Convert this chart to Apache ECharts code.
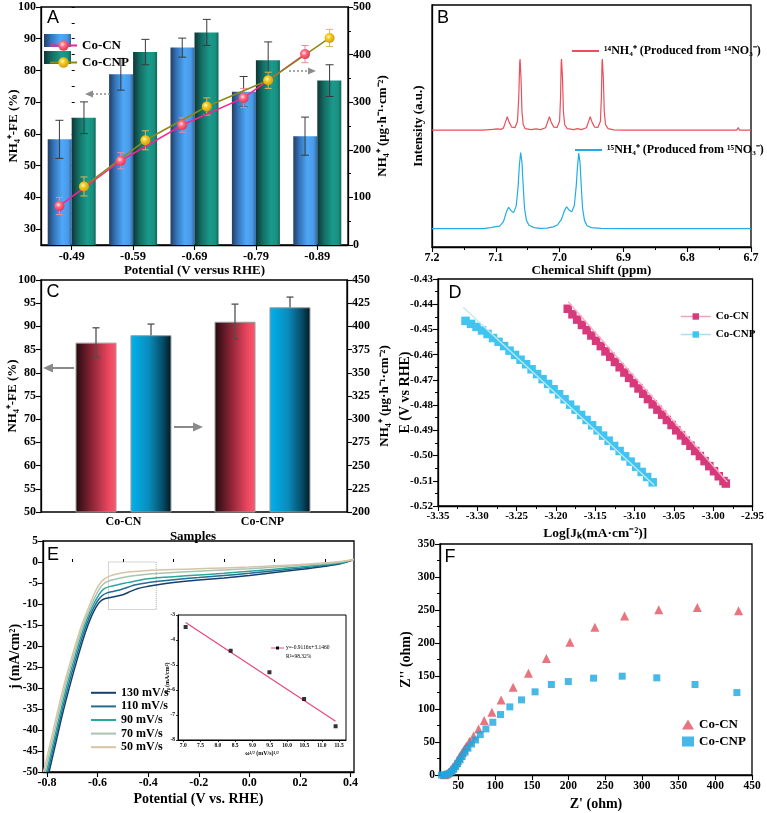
<!DOCTYPE html>
<html><head><meta charset="utf-8">
<script src="https://cdn.jsdelivr.net/npm/echarts@6/dist/echarts.min.js"></script>
<style>html,body{margin:0;padding:0;background:#fff}#c{width:767px;height:813px}</style>
</head><body><div id="c"></div>
<script>
// ---------- Panel A ----------
const potentials = ['-0.49', '-0.59', '-0.69', '-0.79', '-0.89'];
const feCN = [58.3, 78.8, 87.2, 73.3, 59.3];
const feCNErr = [6, 5, 3, 4.8, 6];
const feCNP = [65.1, 85.8, 92.0, 83.2, 76.8];
const feCNPErr = [5, 4, 4.1, 5.8, 5];
const yieldCN = [82, 177, 252, 309, 401];
const yieldCNErr = [18, 17, 15, 20, 18];
const yieldCNP = [123, 220, 291, 346, 435];
const yieldCNPErr = [20, 20, 18, 17, 18];
const feTicksA = [30, 40, 50, 60, 70, 80, 90, 100];

// ---------- Panel B (NMR) ----------
const nmr14 = [[7.200,48.3],[7.120,48.3],[7.105,48.6],[7.098,48.8],[7.092,48.6],[7.088,49.2],[7.085,51.5],[7.082,53.8],[7.079,51.5],[7.075,49.5],[7.070,49.3],[7.066,52],[7.064,62],[7.0625,76],[7.062,77.7],[7.0605,70],[7.059,56],[7.057,50.5],[7.054,48.9],[7.045,48.5],[7.037,48.8],[7.030,48.5],[7.022,49.3],[7.019,51.5],[7.016,53.8],[7.013,51.5],[7.009,49.5],[7.004,49.4],[7.000,52],[6.9985,62],[6.9975,76],[6.997,77.7],[6.9955,70],[6.994,56],[6.992,50.5],[6.988,48.9],[6.978,48.5],[6.972,48.9],[6.966,48.5],[6.958,49.3],[6.955,51.5],[6.952,53.8],[6.949,51.5],[6.945,49.5],[6.940,49.4],[6.936,52],[6.9345,62],[6.9335,76],[6.933,77.7],[6.9315,70],[6.930,56],[6.928,50.5],[6.924,48.9],[6.915,48.4],[6.900,48.3],[6.800,48.3],[6.722,48.3],[6.720,49.4],[6.718,48.3],[6.700,48.3]];
const nmr15 = [[7.200,7.6],[7.120,7.6],[7.108,8.0],[7.100,8.4],[7.094,8.6],[7.088,10.5],[7.083,14.8],[7.080,16.4],[7.076,15],[7.072,14.2],[7.068,17],[7.065,25],[7.063,34],[7.061,39],[7.059,35],[7.057,25],[7.055,16],[7.052,11],[7.048,9],[7.040,8],[7.030,7.7],[7.020,7.8],[7.010,8.3],[7.003,9.2],[6.997,11.5],[6.992,15.3],[6.989,16.6],[6.985,15.2],[6.981,14.6],[6.977,17],[6.974,25],[6.972,33],[6.970,38.8],[6.968,35],[6.966,25],[6.964,16],[6.961,11],[6.957,8.8],[6.950,8.0],[6.935,7.7],[6.900,7.6],[6.700,7.6]];

// ---------- Panel C ----------
const samples = ['Co-CN', 'Co-CNP'];
const feC = [86.5, 91.0];
const feCErr = [3.2, 3.8];
const yieldC = [390.5, 420.6];
const yieldCErr = [12, 11];

// ---------- Panel D (Tafel) ----------
const tafelCN = [[-3.185,-0.4418],[-3.179,-0.4440],[-3.173,-0.4461],[-3.167,-0.4482],[-3.161,-0.4503],[-3.155,-0.4524],[-3.149,-0.4545],[-3.143,-0.4566],[-3.137,-0.4587],[-3.131,-0.4608],[-3.125,-0.4629],[-3.119,-0.4650],[-3.113,-0.4671],[-3.107,-0.4692],[-3.101,-0.4713],[-3.095,-0.4734],[-3.089,-0.4755],[-3.083,-0.4776],[-3.077,-0.4797],[-3.071,-0.4818],[-3.065,-0.4838],[-3.059,-0.4859],[-3.053,-0.4879],[-3.047,-0.4900],[-3.041,-0.4920],[-3.035,-0.4941],[-3.029,-0.4961],[-3.023,-0.4982],[-3.017,-0.5002],[-3.011,-0.5022],[-3.005,-0.5042],[-2.999,-0.5062],[-2.993,-0.5082],[-2.987,-0.5101],[-2.984,-0.5111]];
const tafelCNP = [[-3.315,-0.4466],[-3.308,-0.4478],[-3.301,-0.4490],[-3.294,-0.4504],[-3.287,-0.4518],[-3.280,-0.4534],[-3.273,-0.4549],[-3.266,-0.4566],[-3.259,-0.4584],[-3.252,-0.4601],[-3.245,-0.4620],[-3.238,-0.4638],[-3.231,-0.4658],[-3.224,-0.4677],[-3.217,-0.4697],[-3.210,-0.4716],[-3.203,-0.4737],[-3.196,-0.4757],[-3.189,-0.4777],[-3.182,-0.4798],[-3.175,-0.4818],[-3.168,-0.4839],[-3.161,-0.4859],[-3.154,-0.4880],[-3.147,-0.4900],[-3.140,-0.4921],[-3.133,-0.4941],[-3.126,-0.4962],[-3.119,-0.4982],[-3.112,-0.5003],[-3.105,-0.5024],[-3.098,-0.5044],[-3.091,-0.5065],[-3.084,-0.5085],[-3.077,-0.5106]];
const fitCN = [[-3.1845,-0.4390],[-2.982,-0.5105]];
const fitCNP = [[-3.318,-0.4412],[-3.075,-0.5118]];

// ---------- Panel E (LSV) ----------
const scanRates = ['130', '110', '90', '70', '50'];
const lsv130 = [[-0.792,-50],[-0.765,-43],[-0.74,-36.5],[-0.71,-29.5],[-0.68,-23],[-0.65,-17],[-0.625,-13],[-0.605,-10.6],[-0.59,-9.4],[-0.575,-8.8],[-0.555,-8.5],[-0.53,-8.2],[-0.50,-7.8],[-0.47,-7.0],[-0.44,-6.3],[-0.40,-5.8],[-0.35,-5.3],[-0.30,-4.9],[-0.20,-4.3],[-0.10,-3.8],[0.00,-3.2],[0.10,-2.5],[0.20,-1.8],[0.30,-1.0],[0.36,-0.4],[0.414,0.6]];
const lsv110 = [[-0.797,-50],[-0.77,-43],[-0.745,-36.5],[-0.716,-29.5],[-0.686,-23],[-0.656,-17],[-0.632,-13],[-0.612,-10.5],[-0.597,-9.0],[-0.582,-8.0],[-0.565,-7.4],[-0.54,-7.0],[-0.51,-6.6],[-0.48,-6.0],[-0.45,-5.4],[-0.40,-4.9],[-0.35,-4.5],[-0.30,-4.2],[-0.20,-3.7],[-0.10,-3.2],[0.00,-2.7],[0.10,-2.1],[0.20,-1.5],[0.30,-0.8],[0.36,-0.3],[0.414,0.6]];
const lsv90 = [[-0.802,-50],[-0.775,-43],[-0.75,-36.5],[-0.722,-29.5],[-0.692,-23],[-0.662,-17],[-0.638,-13],[-0.618,-10.3],[-0.603,-8.6],[-0.588,-7.2],[-0.572,-6.3],[-0.55,-5.8],[-0.52,-5.4],[-0.49,-5.0],[-0.45,-4.5],[-0.40,-4.0],[-0.35,-3.7],[-0.30,-3.5],[-0.20,-3.1],[-0.10,-2.7],[0.00,-2.2],[0.10,-1.7],[0.20,-1.2],[0.30,-0.6],[0.36,-0.2],[0.414,0.6]];
const lsv70 = [[-0.808,-50],[-0.781,-43],[-0.756,-36.5],[-0.728,-29.5],[-0.698,-23],[-0.668,-17],[-0.644,-13],[-0.624,-10.2],[-0.609,-8.2],[-0.594,-6.5],[-0.578,-5.3],[-0.56,-4.6],[-0.53,-4.1],[-0.50,-3.7],[-0.45,-3.2],[-0.40,-2.9],[-0.35,-2.7],[-0.30,-2.5],[-0.20,-2.2],[-0.10,-1.9],[0.00,-1.6],[0.10,-1.2],[0.20,-0.8],[0.30,-0.4],[0.36,0.0],[0.414,0.6]];
const lsv50 = [[-0.814,-50],[-0.787,-43],[-0.762,-36.5],[-0.734,-29.5],[-0.704,-23],[-0.674,-17],[-0.65,-13],[-0.63,-10.0],[-0.615,-7.8],[-0.60,-6.0],[-0.585,-4.7],[-0.57,-3.9],[-0.55,-3.3],[-0.52,-2.8],[-0.48,-2.4],[-0.44,-2.2],[-0.40,-2.0],[-0.30,-1.8],[-0.20,-1.6],[-0.10,-1.4],[0.00,-1.2],[0.10,-0.9],[0.20,-0.6],[0.30,-0.2],[0.36,0.1],[0.414,0.6]];
const lsvTicks = [-0.8, -0.6, -0.4, -0.2, 0, 0.2, 0.4];
const lsvMinorTicks = [-0.7, -0.5, -0.3, -0.1, 0.1, 0.3];
const dottedBox = [-0.557, 0, -0.368, -11.3];
// inset
const sqrtScan = [7.07, 8.37, 9.49, 10.49, 11.40];
const jp = [-3.48, -4.43, -5.29, -6.36, -7.45];
const jpFit = [[7.07, -3.30], [11.40, -7.25]];
const insetTicks = [7.0, 7.5, 8.0, 8.5, 9.0, 9.5, 10.0, 10.5, 11.0, 11.5];

// ---------- Panel F (EIS) ----------
const eisCN = [[31,0.3],[33,1],[35,2.2],[37,4],[39,6.5],[41,9],[43,12],[45,15],[47,18.5],[49,22],[51,26],[53,30],[55.5,34],[58,39],[61,44],[65.3,51.1],[70.7,59.2],[77.5,69.8],[85.2,82.4],[95.7,95.1],[108.3,113.8],[124.6,133],[145.5,154.3],[169.9,176.5],[202,201.3],[236,224],[276.4,240.8],[323,250.4],[375.5,253.9],[431.7,248.9]];
const eisCNP = [[27,0],[30,0],[34,1],[37.7,2.5],[40.9,5],[43.6,8.6],[46.3,12.6],[49,17.2],[52.2,22.8],[55.3,28.3],[59,34.4],[63,40.5],[68,47],[73.5,53.1],[79.8,61.2],[87.5,69.8],[97,79.9],[107.4,91.6],[120.1,103.2],[136,113.8],[154.5,126],[176.7,137.1],[199.8,141.6],[234.2,146.7],[273.2,149.7],[320.3,147.2],[372.4,137.1],[429.4,124.9]];
const eisTicks = [50, 100, 150, 200, 250, 300, 350, 400, 450];

// ================= styling / build =================
const SERIF = '"Liberation Serif","Times New Roman",serif';
const SANS = '"Liberation Sans",Arial,sans-serif';
const isObj = o => o && typeof o === 'object' && !Array.isArray(o);
function merge(a, b) { const r = Object.assign({}, a); for (const k in b) { r[k] = (isObj(a[k]) && isObj(b[k])) ? merge(a[k], b[k]) : b[k]; } return r; }
const baseAxis = {
  axisLine: { show: true, onZero: false, lineStyle: { color: '#000', width: 1.3 } },
  axisTick: { show: true, length: 5, lineStyle: { color: '#000', width: 1.1 } },
  minorTick: { length: 3, lineStyle: { color: '#000', width: 1 } },
  axisLabel: { color: '#000', fontFamily: SERIF, fontWeight: 'bold', fontSize: 12, margin: 5 },
  splitLine: { show: false },
  nameLocation: 'middle',
  nameMoveOverlap: false,
  nameTextStyle: { color: '#000', fontFamily: SERIF, fontWeight: 'bold', fontSize: 13 }
};
const ax = o => merge(baseAxis, o);
const frame = (l, t, w, h, show = true) => ({ left: l, top: t, width: w, height: h, show: show, borderColor: '#000', borderWidth: 1.3, backgroundColor: 'transparent' });
const barOffset = 0.2;

function errRender(color, capHalf, pxOffset, width) {
  return function (params, api) {
    const x = api.value(0), v = api.value(1), e = api.value(2);
    const t = api.coord([x, v + e]), b = api.coord([x, v - e]);
    const dx = pxOffset || 0, st = { stroke: color, lineWidth: width || 1 };
    return { type: 'group', children: [
      { type: 'line', shape: { x1: t[0] + dx, y1: t[1], x2: b[0] + dx, y2: b[1] }, style: st },
      { type: 'line', shape: { x1: t[0] + dx - capHalf, y1: t[1], x2: t[0] + dx + capHalf, y2: t[1] }, style: st },
      { type: 'line', shape: { x1: b[0] + dx - capHalf, y1: b[1], x2: b[0] + dx + capHalf, y2: b[1] }, style: st }
    ] };
  };
}
const lg = (stops) => ({ type: 'linear', x: 0, y: 0, x2: 1, y2: 0, colorStops: stops.map((c) => ({ offset: c[0], color: c[1] })) });
const blueBar = lg([[0, '#233e63'], [0.25, '#3473b8'], [0.6, '#4ea8f7'], [0.85, '#4a9ae8'], [1, '#2f68a8']]);
const tealBar = lg([[0, '#0f3536'], [0.3, '#137066'], [0.65, '#1a9a8c'], [0.88, '#18907f'], [1, '#11625a']]);
const redBarC = lg([[0, '#240a10'], [0.45, '#98283a'], [0.8, '#e9475f'], [1, '#ff5670']]);
const blueBarC = lg([[0, '#00b2ee'], [0.45, '#0a8cbc'], [0.8, '#064a66'], [1, '#001820']]);
const rg = (a, b, c) => ({ type: 'radial', x: 0.4, y: 0.38, r: 0.65, colorStops: [{ offset: 0, color: a }, { offset: 0.4, color: b }, { offset: 1, color: c }] });
const legendText = (size, bold) => ({ fontFamily: SERIF, fontWeight: bold === false ? 'normal' : 'bold', fontSize: size, color: '#000' });

const option = {
  animation: false,
  backgroundColor: '#fff',
  grid: [
    frame(41, 7, 307, 238),      // 0 A
    frame(432, 5, 319, 242),     // 1 B
    frame(41, 280, 306, 232),    // 2 C frame
    frame(54, 280, 278, 232, false), // 3 C bars
    frame(438, 279, 315, 227),   // 4 D
    frame(43, 541, 311, 231),    // 5 E
    merge(frame(178, 615, 168, 125), { borderWidth: 1, backgroundColor: '#fff' }), // 6 inset
    frame(440, 544, 312, 231)    // 7 F
  ],
  xAxis: [
    ax({ gridIndex: 0, type: 'category', data: potentials, axisLabel: { fontSize: 12.5 }, axisTick: { alignWithLabel: true }, name: 'Potential (V versus RHE)', nameGap: 19 }),
    { gridIndex: 0, type: 'value', min: -0.5, max: 4.5, show: false },
    ax({ gridIndex: 1, type: 'value', inverse: true, min: 6.7, max: 7.2, interval: 0.1, minorTick: { show: true, splitNumber: 2 }, axisLabel: { formatter: v => v.toFixed(1) }, name: 'Chemical Shift (ppm)', nameGap: 17 }),
    { gridIndex: 2, type: 'value', min: 0, max: 1, show: false },
    ax({ gridIndex: 3, type: 'category', data: samples, axisLine: { show: false }, axisTick: { show: false }, axisLabel: { margin: 4 }, name: 'Samples', nameGap: 18 }),
    ax({ gridIndex: 4, type: 'value', min: -3.35, max: -2.95, interval: 0.05, minorTick: { show: true, splitNumber: 2 }, axisLabel: { fontSize: 11, formatter: v => v.toFixed(2) }, name: 'Log[Jₖ(mA·cm⁻²)]', nameGap: 21, nameTextStyle: { fontSize: 13.5 } }),
    ax({ gridIndex: 5, type: 'value', min: -0.816, max: 0.414, axisLabel: { customValues: lsvTicks, formatter: v => v.toFixed(1) }, axisTick: { customValues: lsvTicks }, name: 'Potential (V vs. RHE)', nameGap: 20, nameTextStyle: { fontSize: 14 } }),
    { gridIndex: 5, type: 'value', min: -0.816, max: 0.414, axisLine: { show: false }, axisLabel: { show: false }, splitLine: { show: false }, axisTick: { customValues: lsvMinorTicks, length: 3, lineStyle: { color: '#000' } } },
    ax({ gridIndex: 6, type: 'value', min: 6.85, max: 11.7, axisLine: { lineStyle: { width: 1 } }, axisTick: { customValues: insetTicks, length: 2, lineStyle: { width: 0.8 } }, axisLabel: { customValues: insetTicks, fontSize: 5.5, margin: 3, formatter: v => v.toFixed(1) }, name: 'ω¹/² (mV/s)¹/²', nameGap: 10, nameTextStyle: { fontSize: 6 } }),
    ax({ gridIndex: 7, type: 'value', min: 25, max: 450, axisLabel: { customValues: eisTicks, fontSize: 11.5 }, axisTick: { customValues: eisTicks }, name: "Z' (ohm)", nameGap: 22, nameTextStyle: { fontSize: 14 } })
  ],
  yAxis: [
    ax({ gridIndex: 0, type: 'value', min: 25, max: 100, axisLabel: { customValues: feTicksA }, axisTick: { customValues: feTicksA }, name: 'NH₄⁺-FE (%)', nameGap: 21, nameRotate: 90 }),
    { gridIndex: 0, type: 'value', min: 25, max: 100, interval: 5, axisLine: { show: false }, axisLabel: { show: false }, splitLine: { show: false }, axisTick: { length: 3, lineStyle: { color: '#000' } } },
    ax({ gridIndex: 0, type: 'value', position: 'right', min: 0, max: 500, interval: 100, minorTick: { show: true, splitNumber: 2 }, name: 'NH₄⁺ (μg·h⁻¹·cm⁻²)', nameGap: 28, nameRotate: 90 }),
    ax({ gridIndex: 1, type: 'value', min: 0, max: 100, axisLabel: { show: false }, axisTick: { show: false }, name: 'Intensity (a.u.)', nameGap: 7, nameRotate: 90 }),
    ax({ gridIndex: 2, type: 'value', min: 50, max: 100, interval: 5, name: 'NH₄⁺-FE (%)', nameGap: 22, nameRotate: 90 }),
    ax({ gridIndex: 2, type: 'value', position: 'right', min: 200, max: 450, interval: 25, name: 'NH₄⁺ (μg·h⁻¹·cm⁻²)', nameGap: 31, nameRotate: 90 }),
    { gridIndex: 3, type: 'value', min: 50, max: 100, show: false },
    { gridIndex: 3, type: 'value', min: 200, max: 450, show: false },
    ax({ gridIndex: 4, type: 'value', min: -0.52, max: -0.43, interval: 0.01, minorTick: { show: true, splitNumber: 2 }, axisLabel: { fontSize: 11, formatter: v => v.toFixed(2) }, name: 'E (V vs RHE)', nameGap: 26, nameRotate: 90, nameTextStyle: { fontSize: 14 } }),
    ax({ gridIndex: 5, type: 'value', min: -50, max: 5, interval: 5, axisLabel: { fontSize: 11.5 }, name: 'j (mA/cm²)', nameGap: 21, nameRotate: 90, nameTextStyle: { fontSize: 14 } }),
    ax({ gridIndex: 6, type: 'value', min: -8, max: -3, interval: 1, axisLine: { lineStyle: { width: 1 } }, axisTick: { length: 2, lineStyle: { width: 0.8 } }, axisLabel: { fontSize: 5.5, margin: 3 }, name: 'jₚ (mA/cm²)', nameGap: 8, nameRotate: 90, nameTextStyle: { fontSize: 6 } }),
    ax({ gridIndex: 7, type: 'value', min: 0, max: 350, interval: 50, minorTick: { show: true, splitNumber: 2 }, axisLabel: { fontSize: 11.5 }, name: "Z'' (ohm)", nameGap: 27, nameRotate: 90, nameTextStyle: { fontSize: 14 } })
  ],
  legend: [
    { data: ['A_Co-CN', 'A_Co-CNP'], orient: 'vertical', left: 44, top: 34, itemWidth: 27, itemHeight: 13, itemGap: 4, selectedMode: false, formatter: n => n.slice(2), textStyle: legendText(13) },
    { data: ['B_14'], left: 566, top: 40, itemWidth: 27, itemHeight: 14, selectedMode: false, itemStyle: { opacity: 0 }, formatter: () => '¹⁴NH₄⁺ (Produced from ¹⁴NO₃⁻)', textStyle: legendText(12) },
    { data: ['B_15'], left: 569, top: 139, itemWidth: 27, itemHeight: 14, selectedMode: false, itemStyle: { opacity: 0 }, formatter: () => '¹⁵NH₄⁺ (Produced from ¹⁵NO₃⁻)', textStyle: legendText(12) },
    { data: [{ name: 'D_Co-CN', lineStyle: { color: '#f0a3bd', width: 1.5 } }, { name: 'D_Co-CNP', lineStyle: { color: '#a9def2', width: 1.5 } }], orient: 'vertical', left: 675, top: 306, itemWidth: 30, itemHeight: 8, itemGap: 7, selectedMode: false, formatter: n => n.slice(2), textStyle: legendText(11) },
    { data: scanRates.map(s => 'E_' + s), orient: 'vertical', left: 85, top: 681, itemWidth: 25, itemHeight: 10, itemGap: 0, selectedMode: false, itemStyle: { opacity: 0 }, formatter: n => n.slice(2) + ' mV/s', textStyle: merge(legendText(12), { lineHeight: 13.6 }) },
    { data: ['F_Co-CN', 'F_Co-CNP'], orient: 'vertical', left: 677, top: 713, itemWidth: 12, itemHeight: 10, itemGap: 4, selectedMode: false, formatter: n => n.slice(2), textStyle: legendText(13) }
  ],
  series: [
    // ---- A ----
    { name: 'A_barCN', type: 'bar', xAxisIndex: 0, yAxisIndex: 0, data: feCN, barWidth: 24, barGap: '0%', itemStyle: { color: blueBar }, z: 2 },
    { name: 'A_barCNP', type: 'bar', xAxisIndex: 0, yAxisIndex: 0, data: feCNP, barWidth: 24, barGap: '0%', itemStyle: { color: tealBar }, z: 2 },
    { type: 'custom', xAxisIndex: 1, yAxisIndex: 0, z: 3, renderItem: errRender('#3a3a3a', 4, 0, 1), data: feCN.map((v, i) => [i - barOffset, v, feCNErr[i]]) },
    { type: 'custom', xAxisIndex: 1, yAxisIndex: 0, z: 3, renderItem: errRender('#3a3a3a', 4, 0, 1), data: feCNP.map((v, i) => [i + barOffset, v, feCNPErr[i]]) },
    { type: 'custom', xAxisIndex: 1, yAxisIndex: 2, z: 4, renderItem: errRender('#f08a9a', 3.5, 0, 1), data: yieldCN.map((v, i) => [i - barOffset, v, yieldCNErr[i]]) },
    { type: 'custom', xAxisIndex: 1, yAxisIndex: 2, z: 4, renderItem: errRender('#e2b64a', 3.5, 0, 1), data: yieldCNP.map((v, i) => [i + barOffset, v, yieldCNPErr[i]]) },
    { name: 'A_Co-CN', type: 'line', xAxisIndex: 1, yAxisIndex: 2, z: 5, data: yieldCN.map((v, i) => [i - barOffset, v]), symbol: 'circle', symbolSize: 10, lineStyle: { color: '#ff1f8f', width: 1.5 }, itemStyle: { color: rg('#ffe3ea', '#ff6b82', '#e5304e') } },
    { name: 'A_Co-CNP', type: 'line', xAxisIndex: 1, yAxisIndex: 2, z: 5, data: yieldCNP.map((v, i) => [i + barOffset, v]), symbol: 'circle', symbolSize: 10, lineStyle: { color: '#8a8a14', width: 1.5 }, itemStyle: { color: rg('#fff7c4', '#f4c81c', '#cf9d0e') } },
    // ---- B ----
    { name: 'B_14', type: 'line', xAxisIndex: 2, yAxisIndex: 3, data: nmr14, symbol: 'none', lineStyle: { color: '#e8505d', width: 1.2 }, itemStyle: { color: '#e8505d' } },
    { name: 'B_15', type: 'line', xAxisIndex: 2, yAxisIndex: 3, data: nmr15, symbol: 'none', lineStyle: { color: '#20ade6', width: 1.2 }, itemStyle: { color: '#20ade6' } },
    // ---- C ----
    { name: 'C_FE', type: 'bar', xAxisIndex: 4, yAxisIndex: 6, data: feC, barWidth: 41, barGap: '34%', itemStyle: { color: redBarC, borderColor: '#9a9a9a', borderWidth: 1 }, z: 2 },
    { name: 'C_Y', type: 'bar', xAxisIndex: 4, yAxisIndex: 7, data: yieldC, barWidth: 41, barGap: '34%', itemStyle: { color: blueBarC, borderColor: '#9a9a9a', borderWidth: 1 }, z: 2 },
    { type: 'custom', xAxisIndex: 4, yAxisIndex: 6, z: 3, renderItem: errRender('#505050', 3.5, -27.5, 1.3), data: feC.map((v, i) => [i, v, feCErr[i]]) },
    { type: 'custom', xAxisIndex: 4, yAxisIndex: 7, z: 1, renderItem: errRender('#505050', 3.5, 27.5, 1.3), data: yieldC.map((v, i) => [i, v, yieldCErr[i]]) },
    // ---- D ----
    { name: 'D_Co-CN', type: 'line', xAxisIndex: 5, yAxisIndex: 8, data: tafelCN, symbol: 'rect', symbolSize: 8.5, lineStyle: { color: '#d8397a', width: 3 }, itemStyle: { color: '#d8397a' }, z: 2 },
    { name: 'D_Co-CNP', type: 'line', xAxisIndex: 5, yAxisIndex: 8, data: tafelCNP, symbol: 'rect', symbolSize: 8.5, lineStyle: { color: '#41c4ef', width: 3 }, itemStyle: { color: '#41c4ef' }, z: 2 },
    { name: 'D_fitCN', type: 'line', xAxisIndex: 5, yAxisIndex: 8, data: fitCN, symbol: 'none', lineStyle: { color: '#f3b0c6', width: 1.3 }, z: 3 },
    { name: 'D_fitCNP', type: 'line', xAxisIndex: 5, yAxisIndex: 8, data: fitCNP, symbol: 'none', lineStyle: { color: '#bfe9f7', width: 1.3 }, z: 3 },
    // ---- E ----
    { name: 'E_130', type: 'line', xAxisIndex: 6, yAxisIndex: 9, data: lsv130, symbol: 'none', smooth: 0.3, lineStyle: { color: '#173f6e', width: 1.5 }, itemStyle: { color: '#173f6e' },
      markArea: { silent: true, itemStyle: { color: 'rgba(0,0,0,0)', borderColor: '#aaa', borderWidth: 1, borderType: 'dotted' }, data: [[{ coord: [dottedBox[0], dottedBox[1]] }, { coord: [dottedBox[2], dottedBox[3]] }]] } },
    { name: 'E_110', type: 'line', xAxisIndex: 6, yAxisIndex: 9, data: lsv110, symbol: 'none', smooth: 0.3, lineStyle: { color: '#236f91', width: 1.5 }, itemStyle: { color: '#236f91' } },
    { name: 'E_90', type: 'line', xAxisIndex: 6, yAxisIndex: 9, data: lsv90, symbol: 'none', smooth: 0.3, lineStyle: { color: '#27a89c', width: 1.5 }, itemStyle: { color: '#27a89c' } },
    { name: 'E_70', type: 'line', xAxisIndex: 6, yAxisIndex: 9, data: lsv70, symbol: 'none', smooth: 0.3, lineStyle: { color: '#a9c2b1', width: 1.5 }, itemStyle: { color: '#a9c2b1' } },
    { name: 'E_50', type: 'line', xAxisIndex: 6, yAxisIndex: 9, data: lsv50, symbol: 'none', smooth: 0.3, lineStyle: { color: '#d5c5a6', width: 1.5 }, itemStyle: { color: '#d5c5a6' } },
    { name: 'E_pts', type: 'scatter', xAxisIndex: 8, yAxisIndex: 10, data: sqrtScan.map((x, i) => [x, jp[i]]), symbol: 'rect', symbolSize: 4, itemStyle: { color: '#000' }, z: 4 },
    { name: 'E_fit', type: 'line', xAxisIndex: 8, yAxisIndex: 10, data: jpFit, symbol: 'none', lineStyle: { color: '#e8437a', width: 1.1 }, z: 3 },
    // ---- F ----
    { name: 'F_Co-CN', type: 'scatter', xAxisIndex: 9, yAxisIndex: 11, data: eisCN, symbol: 'triangle', symbolSize: 9, itemStyle: { color: '#e4505e' } },
    { name: 'F_Co-CNP', type: 'scatter', xAxisIndex: 9, yAxisIndex: 11, data: eisCNP, symbol: 'rect', symbolSize: 7, itemStyle: { color: '#1aa8e0' } }
  ],
  graphic: [
    { type: 'rect', z: 1, shape: { x: 44, y: 34, width: 27, height: 13 }, style: { fill: blueBar } },
    { type: 'rect', z: 1, shape: { x: 44, y: 51, width: 27, height: 13 }, style: { fill: tealBar } },
    // panel letters
    { type: 'text', z: 10, style: { x: 53, y: 18, text: 'A', font: '18px ' + SANS, fill: '#000', align: 'center', verticalAlign: 'middle' } },
    { type: 'text', z: 10, style: { x: 443, y: 18, text: 'B', font: '18px ' + SANS, fill: '#000', align: 'center', verticalAlign: 'middle' } },
    { type: 'text', z: 10, style: { x: 53, y: 292, text: 'C', font: '18px ' + SANS, fill: '#000', align: 'center', verticalAlign: 'middle' } },
    { type: 'text', z: 10, style: { x: 455, y: 293, text: 'D', font: '18px ' + SANS, fill: '#000', align: 'center', verticalAlign: 'middle' } },
    { type: 'text', z: 10, style: { x: 53, y: 555, text: 'E', font: '18px ' + SANS, fill: '#000', align: 'center', verticalAlign: 'middle' } },
    { type: 'text', z: 10, style: { x: 450, y: 557, text: 'F', font: '18px ' + SANS, fill: '#000', align: 'center', verticalAlign: 'middle' } },
    // arrows A (dotted)
    { type: 'line', z: 10, shape: { x1: 110, y1: 94, x2: 92, y2: 94 }, style: { stroke: '#8c8c8c', lineWidth: 1.5, lineDash: [2, 2] } },
    { type: 'polygon', z: 10, shape: { points: [[85, 94], [93, 90.5], [93, 97.5]] }, style: { fill: '#8c8c8c' } },
    { type: 'line', z: 10, shape: { x1: 289, y1: 71, x2: 308, y2: 71 }, style: { stroke: '#8c8c8c', lineWidth: 1.5, lineDash: [2, 2] } },
    { type: 'polygon', z: 10, shape: { points: [[316, 71], [308, 67.5], [308, 74.5]] }, style: { fill: '#8c8c8c' } },
    // arrows C (solid)
    { type: 'line', z: 10, shape: { x1: 74, y1: 368, x2: 51, y2: 368 }, style: { stroke: '#8a8a8a', lineWidth: 2 } },
    { type: 'polygon', z: 10, shape: { points: [[43, 368], [53, 363.5], [53, 372.5]] }, style: { fill: '#8a8a8a' } },
    { type: 'line', z: 10, shape: { x1: 174, y1: 427, x2: 195, y2: 427 }, style: { stroke: '#8a8a8a', lineWidth: 2 } },
    { type: 'polygon', z: 10, shape: { points: [[203, 427], [193, 422.5], [193, 431.5]] }, style: { fill: '#8a8a8a' } },
    // inset legend (fit line with data marker)
    { type: 'line', z: 10, shape: { x1: 271, y1: 648, x2: 284, y2: 648 }, style: { stroke: '#e8437a', lineWidth: 1 } },
    { type: 'rect', z: 11, shape: { x: 276, y: 646.5, width: 3, height: 3 }, style: { fill: '#000' } },
    { type: 'text', z: 10, style: { x: 286, y: 648, text: 'y=-0.9116x+3.1460', font: '5.5px ' + SERIF, fill: '#000', verticalAlign: 'middle' } },
    { type: 'text', z: 10, style: { x: 286, y: 656.5, text: 'R²=98.32%', font: '5.5px ' + SERIF, fill: '#000', verticalAlign: 'middle' } }
  ]
};
const chart = echarts.init(document.getElementById('c'), null, { renderer: 'canvas' });
chart.setOption(option);
</script>
</body></html>
